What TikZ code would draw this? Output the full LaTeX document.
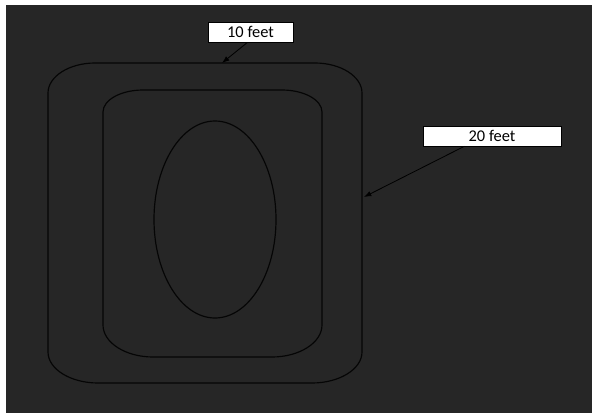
\documentclass[tikz,border=0pt]{standalone}
\usepackage{fontspec}
\setmainfont{Carlito}
\usetikzlibrary{arrows.meta,calc}
\definecolor{cBack}{HTML}{262626}
\definecolor{cLine}{HTML}{050505}
% frame with elliptic corners: left, top, right, bottom, rx/ry top, rx/ry bottom
\newcommand{\roundFrame}[8]{
  \draw[frameline] (#1,{#2+#6}) -- (#1,{#4-#8})
    .. controls (#1,{#4-0.45*#8}) and ({#1+0.45*#7},#4) .. ({#1+#7},#4)
    -- ({#3-#7},#4)
    .. controls ({#3-0.45*#7},#4) and (#3,{#4-0.45*#8}) .. (#3,{#4-#8})
    -- (#3,{#2+#6})
    .. controls (#3,{#2+0.45*#6}) and ({#3-0.45*#5},#2) .. ({#3-#5},#2)
    -- ({#1+#5},#2)
    .. controls ({#1+0.45*#5},#2) and (#1,{#2+0.45*#6}) .. cycle;
}

\begin{document}
\begin{tikzpicture}[
    x=0.03cm, y=-0.03cm,
    font=\fontsize{14}{16}\selectfont,
    >={Latex[length=2.2mm,width=1.6mm]},
    frameline/.style={draw=cLine, line width=1pt},
    sizelabel/.style={draw=black, fill=white, line width=0.6pt,
      minimum height=0.6cm, inner sep=0pt, text=black},
]

% ---- background ----
\fill[white] (0,0) rectangle (592,413);
\fill[cBack] (6,5) rectangle (592,413);
\useasboundingbox (0,0) rectangle (592,413);

% ---- frames and pool ----
\roundFrame{48}{63}{362}{383}{47}{30}{50}{31}
\roundFrame{103}{90}{322}{357}{40}{22}{50}{32}
\draw[frameline] (215,219.5) ellipse (61 and 98.5);

% ---- labels ----
\node[sizelabel, minimum width=2.55cm] (label10) at (250.5,32) {10 feet};
\node[sizelabel, minimum width=4.14cm] (label20) at (492,136) {20 feet};

\coordinate (tip10) at (222,63);
\coordinate (tip20) at (364,197);

% ---- arrows ----
\draw[->, black, line width=0.7pt] ($(label10.south)+(-3,0)$) -- (tip10);
\draw[->, black, line width=0.7pt] ($(label20.south west)!0.3!(label20.south east)$) -- (tip20);

\end{tikzpicture}
\end{document}
